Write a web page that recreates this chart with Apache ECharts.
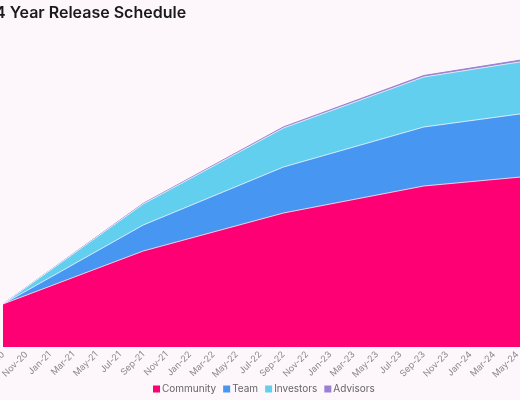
<!DOCTYPE html>
<html>
<head>
<meta charset="utf-8">
<script src="https://cdn.jsdelivr.net/npm/echarts@6/dist/echarts.min.js"></script>
<style>
html,body{margin:0;padding:0;width:520px;height:400px;overflow:hidden;background:#fdf7fb;}
#chart{position:absolute;left:-10px;top:0;width:630px;height:400px;}
</style>
</head>
<body>
<div id="chart"></div>
<script>
// month index since Sep-20
var months = [0, 12, 24, 36, 48];
var tickLabels = ["Sep-20","Nov-20","Jan-21","Mar-21","May-21","Jul-21","Sep-21","Nov-21","Jan-22","Mar-22","May-22","Jul-22","Sep-22","Nov-22","Jan-23","Mar-23","May-23","Jul-23","Sep-23","Nov-23","Jan-24","Mar-24","May-24","Jul-24","Sep-24"];
var community = [43, 96, 134, 161, 174];
var team      = [0, 26, 46, 59, 65];
var investors = [0, 21, 39, 50, 53];
var advisors  = [0, 0.6, 1.1, 1.5, 1.8];

var layers = [community, team, investors, advisors];
// cumulative totals so each band sits on the ones below it
var cum = [];
layers.forEach(function(vals, k){
  cum.push(vals.map(function(v, i){ return v + (k > 0 ? cum[k-1][i] : 0); }));
});
function pairs(vals){ return months.map(function(m,i){ return [m, vals[i]]; }); }

var chart = echarts.init(document.getElementById('chart'));
function areaSeries(name, k, color, lineColor){
  return {
    name: name, type: 'line', data: pairs(cum[k]), z: 10 - k,
    symbol: 'none', smooth: false,
    itemStyle: {color: color},
    lineStyle: {color: lineColor, width: 1},
    areaStyle: {color: color, opacity: 1}
  };
}
chart.setOption({
  backgroundColor: '#fdf7fb',
  animation: false,
  title: {
    text: '4 Year Release Schedule', left: 5, top: 5, padding: 0,
    textStyle: {fontFamily: 'Inter', fontSize: 16, fontWeight: 600, color: '#1a1a1a'}
  },
  legend: {
    left: 163, top: 384, padding: 0, itemWidth: 7, itemHeight: 7, itemGap: 7, icon: 'rect',
    textStyle: {fontFamily: 'Inter', fontSize: 10, color: '#666', padding: [0, 0, 0, -3]},
    data: ['Community','Team','Investors','Advisors']
  },
  grid: {left: 13, right: 56, top: 47, bottom: 53, containLabel: false, outerBoundsMode: 'none'},
  xAxis: {
    type: 'value', min: 0, max: 48, interval: 2,
    axisLine: {show: false}, axisTick: {show: false}, splitLine: {show: false},
    axisLabel: {
      rotate: 45, fontSize: 9, color: '#888', fontFamily: 'Inter', margin: 6,
      formatter: function(v){ return tickLabels[Math.round(v/2)] || ''; }
    }
  },
  yAxis: {type: 'value', min: 0, max: 300, show: false, splitLine: {show: false}},
  series: [
    areaSeries('Community', 0, '#ff0074', 'rgba(255,255,255,0.75)'),
    areaSeries('Team', 1, '#4796f2', 'rgba(255,255,255,0.75)'),
    areaSeries('Investors', 2, '#63cfee', 'rgba(255,255,255,0.75)'),
    areaSeries('Advisors', 3, '#9b80d2', '#9b80d2')
  ]
});
</script>
</body>
</html>
